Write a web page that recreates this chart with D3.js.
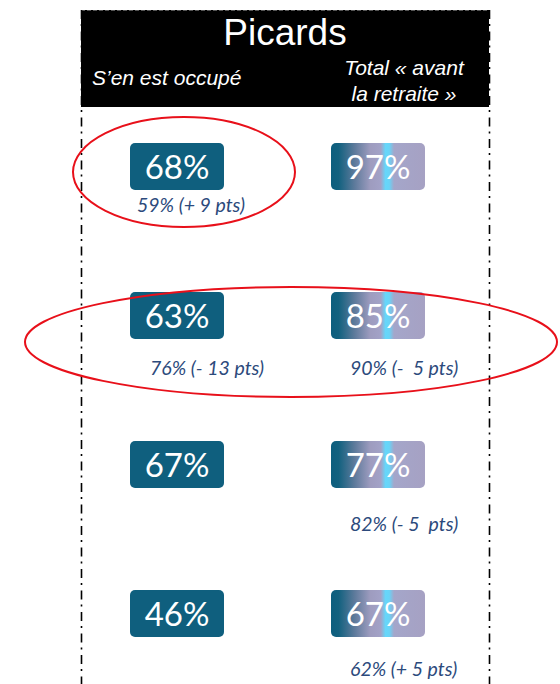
<!DOCTYPE html>
<html><head><meta charset="utf-8">
<script src="https://cdn.jsdelivr.net/npm/d3@7"></script>
<style>
body{margin:0;background:#fff;}
svg{display:block;}
</style></head>
<body>
<svg id="chart" width="560" height="684"></svg>
<script>
const title = "Picards";
const columns = ["S’en est occupé", "Total « avant la retraite »"];
const rows = ["r1", "r2", "r3", "r4"];
const occupeValues = [68, 63, 67, 46];
const totalValues = [97, 85, 77, 67];
const occupeNotes = ["59% (+ 9 pts)", "76% (- 13 pts)", "", ""];
const totalNotes = ["", "90% (-  5 pts)", "82% (- 5  pts)", "62% (+ 5 pts)"];

const W = 560, H = 684;
const svg = d3.select("#chart");

const defs = svg.append("defs");
const grad = defs.append("linearGradient").attr("id", "gTot").attr("x1", "0%").attr("x2", "100%");
[[0, "#0c5e7e"], [0.08, "#12617f"], [0.25, "#5d7a9b"], [0.42, "#9e9cbf"], [0.53, "#a3a2c7"], [0.58, "#66d6fa"], [0.62, "#68d4f7"], [0.67, "#a4a6ca"], [1, "#a6a1c3"]]
  .forEach(([o, c]) => grad.append("stop").attr("offset", o).attr("stop-color", c));

// Header
const hx0 = 81, hx1 = 489;
svg.append("rect").attr("x", hx0).attr("y", 10).attr("width", hx1 - hx0).attr("height", 97).attr("fill", "#000");
svg.append("line").attr("x1", hx0).attr("x2", hx1).attr("y1", 10.5).attr("y2", 10.5)
  .attr("stroke", "#555").attr("stroke-dasharray", "4,2");
svg.append("text").attr("x", 285).attr("y", 45).attr("text-anchor", "middle")
  .attr("font-family", "Liberation Sans, Arial, sans-serif").attr("font-size", 37).attr("fill", "#fff").text(title);
svg.append("text").attr("x", 92).attr("y", 85)
  .attr("font-family", "Liberation Sans, Arial, sans-serif").attr("font-style", "italic").attr("font-size", 21).attr("fill", "#fff").text(columns[0]);
const t2 = svg.append("text").attr("text-anchor", "middle")
  .attr("font-family", "Liberation Sans, Arial, sans-serif").attr("font-style", "italic").attr("font-size", 21).attr("fill", "#fff");
t2.append("tspan").attr("x", 404).attr("y", 75).text("Total « avant");
t2.append("tspan").attr("x", 404).attr("y", 101).text("la retraite »");

// Vertical dash-dot lines
[hx0, hx1].forEach(x => {
  svg.append("line").attr("x1", x + 0.5).attr("x2", x + 0.5).attr("y1", 10).attr("y2", H)
    .attr("stroke", "#000").attr("stroke-width", 1.6).attr("stroke-dasharray", "9,5,2,5.5");
});

// Scales
const y = d3.scalePoint().domain(rows).range([143, 590]);
const x = d3.scalePoint().domain(columns).range([130, 331]);
const boxW = 94, boxH = 47;

const series = [
  {col: columns[0], vals: occupeValues, notes: occupeNotes, fill: "#0f5f7e", noteX: [137, 150, 150, 150], noteDy: [22, 36, 43, 39]},
  {col: columns[1], vals: totalValues, notes: totalNotes, fill: "url(#gTot)", noteX: [350, 350, 350, 350], noteDy: [22, 36, 43, 39]}
];

series.forEach(s => {
  const g = svg.append("g");
  rows.forEach((r, i) => {
    g.append("rect").attr("x", x(s.col)).attr("y", y(r)).attr("width", boxW).attr("height", boxH)
      .attr("rx", 5).attr("fill", s.fill);
    g.append("text").attr("x", x(s.col) + boxW / 2).attr("y", y(r) + boxH / 2 + 12)
      .attr("text-anchor", "middle").attr("font-family", "Lato, 'Open Sans', sans-serif")
      .attr("font-size", 33).attr("fill", "#fff").text(s.vals[i] + "%");
    if (s.notes[i]) {
      g.append("text").attr("x", s.noteX[i]).attr("y", y(r) + boxH + s.noteDy[i])
        .attr("font-family", "Lato, 'Open Sans', sans-serif").attr("font-style", "italic")
        .attr("font-size", 19.5).attr("fill", "#2c4a7c").style("white-space", "pre").text(s.notes[i]);
    }
  });
});

// Red ellipses
svg.append("ellipse").attr("cx", 184).attr("cy", 172).attr("rx", 111).attr("ry", 55)
  .attr("fill", "none").attr("stroke", "#e8101a").attr("stroke-width", 2);
svg.append("ellipse").attr("cx", 291).attr("cy", 342).attr("rx", 266).attr("ry", 55)
  .attr("fill", "none").attr("stroke", "#e8101a").attr("stroke-width", 2);
</script>
</body></html>
